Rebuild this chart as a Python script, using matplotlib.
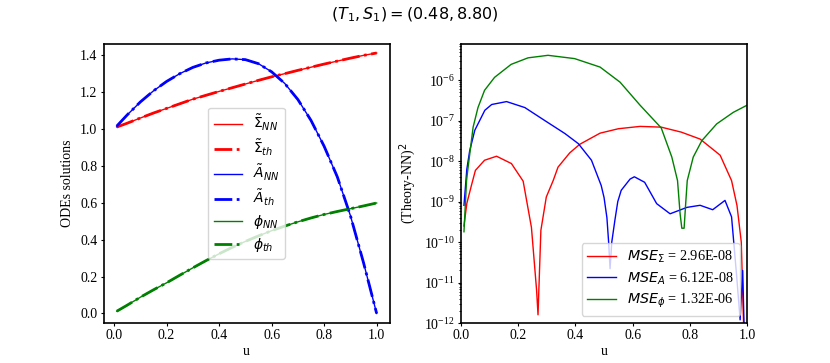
import numpy as np
import matplotlib
matplotlib.use("Agg")
import matplotlib.pyplot as plt

plt.rcParams['font.family'] = 'serif'
plt.rcParams['font.serif'] = ['Liberation Serif', 'DejaVu Serif']
plt.rcParams['axes.linewidth'] = 1.2
plt.rcParams['xtick.major.size'] = 2.3
plt.rcParams['ytick.major.size'] = 2.3
plt.rcParams['xtick.minor.size'] = 1.4
plt.rcParams['ytick.minor.size'] = 1.4
plt.rcParams['xtick.major.pad'] = 2.3
plt.rcParams['ytick.major.pad'] = 2.3
plt.rcParams['legend.labelspacing'] = 0.35

# left panel: ODE solutions (theory and NN overlap)
u_sol = [0.01, 0.05, 0.10, 0.15, 0.20, 0.25, 0.30, 0.35, 0.40, 0.45, 0.50,
         0.55, 0.60, 0.65, 0.70, 0.75, 0.80, 0.85, 0.90, 0.95, 1.00]
sigma_th = [1.009, 1.030, 1.058, 1.085, 1.110, 1.135, 1.160, 1.181, 1.202, 1.222, 1.242,
            1.262, 1.281, 1.298, 1.316, 1.333, 1.350, 1.366, 1.382, 1.397, 1.410]
A_th = [1.014, 1.075, 1.145, 1.205, 1.256, 1.298, 1.332, 1.356, 1.371, 1.378, 1.374,
        1.352, 1.308, 1.245, 1.158, 1.045, 0.905, 0.740, 0.530, 0.275, 0.000]
phi_th = [0.012, 0.045, 0.088, 0.128, 0.166, 0.207, 0.247, 0.286, 0.323, 0.358, 0.390,
          0.420, 0.448, 0.473, 0.496, 0.517, 0.536, 0.552, 0.567, 0.582, 0.598]
sigma_nn = sigma_th
A_nn = A_th
phi_nn = phi_th

# right panel: squared errors
u_err_sigma = [0.01, 0.02, 0.036, 0.05, 0.082, 0.124, 0.176, 0.217, 0.246, 0.264, 0.269,
               0.279, 0.298, 0.322, 0.339, 0.38, 0.415, 0.486, 0.55, 0.626, 0.70,
               0.77, 0.836, 0.906, 0.946, 0.965, 0.98, 0.99, 1.0]
err_sigma = [2.5e-10, 9.0e-10, 2.5e-9, 5.9e-9, 1.05e-8, 1.32e-8, 8.7e-9, 3.2e-9, 2.3e-10, 6.5e-12, 1.6e-12,
             1.95e-10, 1.3e-9, 3.3e-9, 7.1e-9, 1.6e-8, 2.6e-8, 4.9e-8, 6.3e-8, 7.2e-8, 6.9e-8,
             5.2e-8, 3.5e-8, 1.4e-8, 3.3e-9, 8.0e-10, 1.0e-10, 3.0e-13, 1.0e-14]

u_err_A = [0.01, 0.02, 0.03, 0.048, 0.083, 0.107, 0.159, 0.223, 0.293, 0.363, 0.41,
           0.456, 0.49, 0.50, 0.51, 0.516, 0.521, 0.527, 0.538, 0.548, 0.56,
           0.591, 0.606, 0.642, 0.684, 0.731, 0.79, 0.836, 0.88, 0.923, 0.946,
           0.963, 0.976, 0.985, 0.993, 1.0]
err_A = [8.1e-10, 6.3e-9, 1.8e-8, 5.8e-8, 1.8e-7, 2.5e-7, 2.95e-7, 2.1e-7, 1.0e-7, 4.8e-8, 2.7e-8,
         1.05e-8, 2.5e-9, 1.26e-9, 4.0e-10, 1.0e-10, 2.2e-11, 1.0e-10, 3.5e-10, 1.0e-9, 1.9e-9,
         3.6e-9, 4.1e-9, 3.0e-9, 8.9e-10, 5.0e-10, 7.2e-10, 8.1e-10, 6.3e-10, 1.07e-9, 4.2e-10,
         1.7e-11, 1.2e-12, 2.0e-11, 1.0e-13, 1.0e-14]

u_err_phi = [0.01, 0.019, 0.0245, 0.042, 0.059, 0.082, 0.117, 0.175, 0.234, 0.304, 0.397,
             0.486, 0.556, 0.626, 0.70, 0.737, 0.757, 0.766, 0.772, 0.78, 0.786,
             0.791, 0.812, 0.842, 0.894, 0.952, 1.0]
err_phi = [1.8e-10, 3.3e-9, 7.1e-9, 6.9e-8, 2.1e-7, 5.6e-7, 1.17e-6, 2.45e-6, 3.55e-6, 4.1e-6, 3.4e-6,
           2.1e-6, 8.9e-7, 2.4e-7, 6.6e-8, 1.26e-8, 3.3e-9, 5.0e-10, 2.2e-10, 2.2e-10, 1.0e-9,
           3.3e-9, 1.26e-8, 3.2e-8, 8.3e-8, 1.6e-7, 2.4e-7]

mse_labels = [r'$MSE_\Sigma$ = 2.96E-08', r'$MSE_A$ = 6.12E-08', r'$MSE_\phi$ = 1.32E-06']

fig, (ax1, ax2) = plt.subplots(1, 2, figsize=(8.3, 3.63), dpi=100)
fig.subplots_adjust(wspace=0.25)
fig.suptitle(r'$(T_1, S_1) = (0.48, 8.80)$', fontsize=11.5, y=0.985)

ax1.plot(u_sol, sigma_nn, 'r-', lw=1, label=r'$\tilde{\Sigma}_{NN}$')
ax1.plot(u_sol, sigma_th, 'r-.', lw=2, label=r'$\tilde{\Sigma}_{th}$')
ax1.plot(u_sol, A_nn, 'b-', lw=1, label=r'$\tilde{A}_{NN}$')
ax1.plot(u_sol, A_th, 'b-.', lw=2, label=r'$\tilde{A}_{th}$')
ax1.plot(u_sol, phi_nn, 'g-', lw=1, label=r'$\phi_{NN}$')
ax1.plot(u_sol, phi_th, 'g-.', lw=2, label=r'$\phi_{th}$')
ax1.set_xlabel('u', labelpad=2)
ax1.set_ylabel('ODEs solutions')
ax1.set_ylim(-0.052, 1.461)
ax1.legend(loc='center')

ax2.plot(u_err_sigma, err_sigma, 'r-', lw=1, label=mse_labels[0])
ax2.plot(u_err_A, err_A, 'b-', lw=1, label=mse_labels[1])
ax2.plot(u_err_phi, err_phi, 'g-', lw=1, label=mse_labels[2])
ax2.set_yscale('log')
ax2.set_xlim(0, 1)
ax2.set_ylim(1e-12, 8e-6)
ax2.set_xlabel('u', labelpad=2)
ax2.set_ylabel('(Theory-NN)$^2$')
ax2.legend(loc='lower right', fontsize=10.3)

fig.savefig('out.png', dpi=100)
